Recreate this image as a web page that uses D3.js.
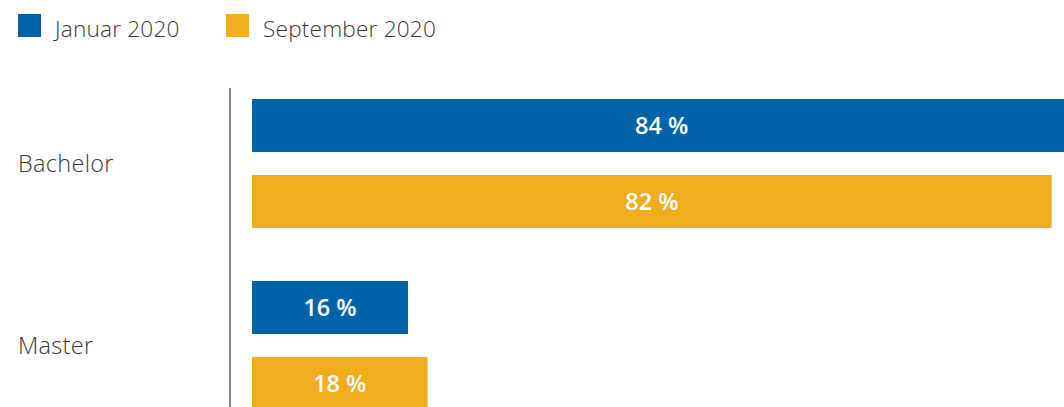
<!DOCTYPE html>
<html>
<head>
<meta charset="utf-8">
<script src="https://cdn.jsdelivr.net/npm/d3@7"></script>
<style>
  html, body { margin: 0; padding: 0; background: #fff; overflow: hidden; }
  svg { display: block; font-family: "Open Sans", "Noto Sans", sans-serif; }
</style>
</head>
<body>
<svg id="chart" width="1064" height="407"></svg>
<script>
// Degree programmes and the two survey waves
const categories = ["Bachelor", "Master"];
const seriesNames = ["Januar 2020", "September 2020"];
const januar2020 = [84, 16];
const september2020 = [82, 18];
const seriesColors = ["#0063a7", "#f0ad1d"];

const W = 1064, H = 407;
const svg = d3.select("#chart");

const rows = categories.map((c, i) => ({
  category: c,
  values: [
    { series: seriesNames[0], value: januar2020[i] },
    { series: seriesNames[1], value: september2020[i] }
  ]
}));

// Scales
const x = d3.scaleLinear().domain([0, 82]).range([252, 1051.7]);
const y = d3.scaleBand().domain(categories).range([99, 410]).paddingInner(53 / 182).paddingOuter(0);
const ySub = d3.scaleBand().domain(seriesNames).range([0, y.bandwidth()]).paddingInner(23 / 76).paddingOuter(0);
const color = d3.scaleOrdinal().domain(seriesNames).range(seriesColors);

// Legend
const legend = svg.append("g").attr("class", "legend");
const legendX = [18, 226];
seriesNames.forEach((s, i) => {
  const g = legend.append("g").attr("transform", `translate(${legendX[i]},14)`);
  g.append("rect").attr("width", 23).attr("height", 23).attr("fill", color(s));
  g.append("text")
    .attr("x", 37).attr("y", 22.7)
    .attr("fill", "#3a3a3a")
    .style("font-size", "22.6px").style("font-weight", 300)
    .style("letter-spacing", "0.2px")
    .text(s);
});

// Category axis: a plain vertical line with labels on the far left
svg.append("line")
  .attr("x1", 230).attr("x2", 230)
  .attr("y1", 88).attr("y2", H)
  .attr("stroke", "#555").attr("stroke-width", 1.4);

const axis = d3.axisLeft(y).tickSize(0).tickPadding(0);
const axisG = svg.append("g").attr("transform", "translate(230,0)").call(axis);
axisG.select(".domain").remove();
axisG.selectAll("text")
  .attr("x", 18 - 230)
  .attr("dy", "0.36em")
  .attr("text-anchor", "start")
  .attr("fill", "#3a3a3a")
  .style("font-family", "\"Open Sans\", sans-serif")
  .style("font-size", "23.5px").style("font-weight", 300)
  .style("letter-spacing", "0.3px");

// Bars
const groups = svg.append("g").selectAll("g")
  .data(rows).join("g")
  .attr("transform", d => `translate(0,${y(d.category)})`);

groups.selectAll("rect")
  .data(d => d.values).join("rect")
  .attr("x", x(0))
  .attr("y", d => ySub(d.series))
  .attr("width", d => x(d.value) - x(0))
  .attr("height", ySub.bandwidth())
  .attr("fill", d => color(d.series));

groups.selectAll("text.value")
  .data(d => d.values).join("text")
  .attr("class", "value")
  .attr("x", d => (x(0) + x(d.value)) / 2)
  .attr("y", d => ySub(d.series) + ySub.bandwidth() / 2)
  .attr("dy", "0.37em")
  .attr("text-anchor", "middle")
  .attr("fill", "#fff")
  .style("font-size", "23.5px").style("font-weight", 600)
  .text(d => `${d.value} %`);
</script>
</body>
</html>
